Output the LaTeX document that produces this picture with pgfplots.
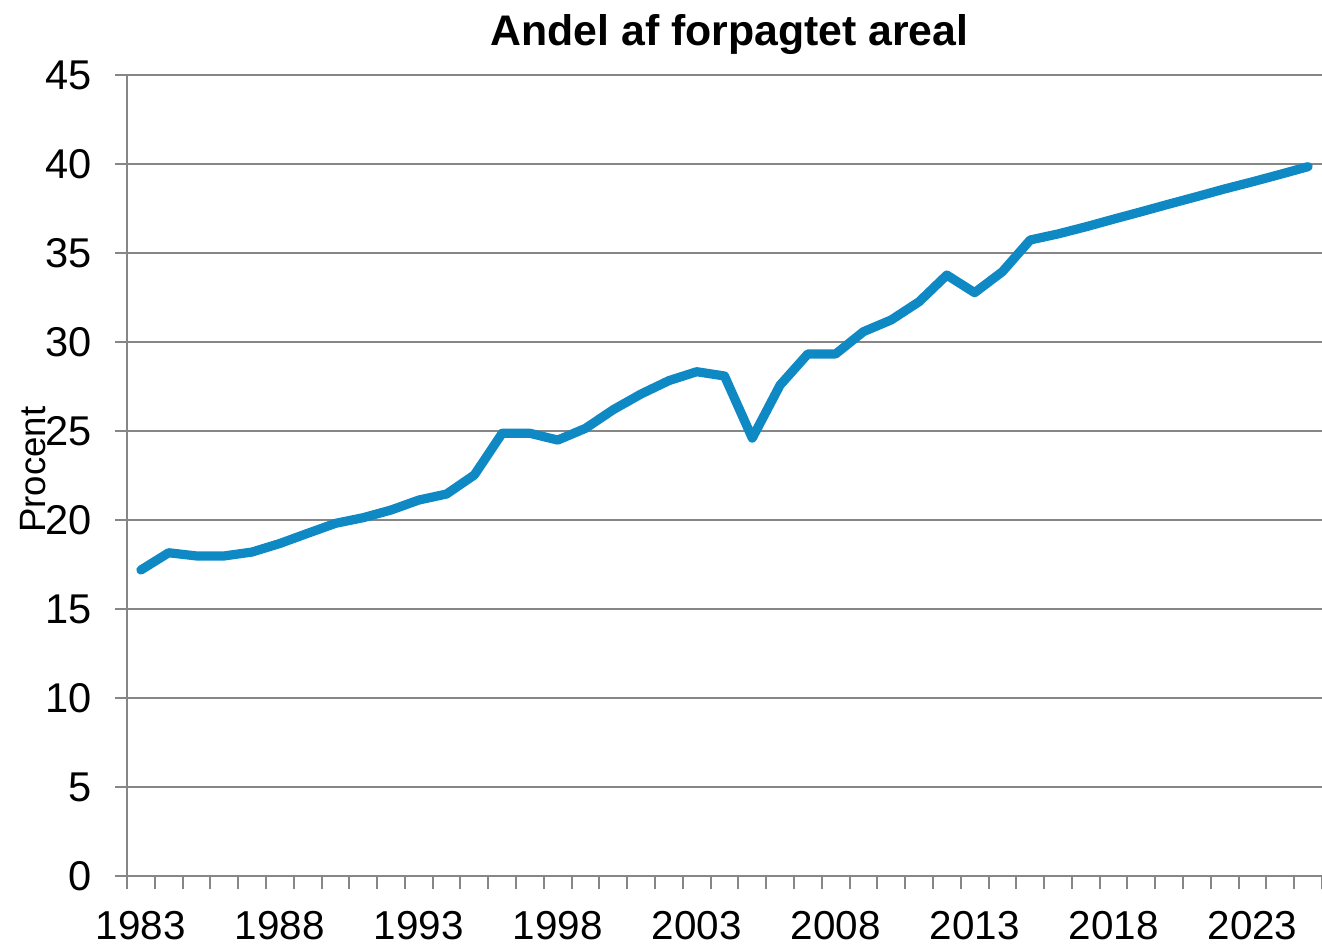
\documentclass[border=0pt]{standalone}
\usepackage{fontspec}
\setmainfont{Liberation Sans}
\usepackage{pgfplots}
\pgfplotsset{compat=1.18}
\definecolor{linec}{RGB}{14,137,196}
\definecolor{gridc}{RGB}{134,134,134}
\begin{document}
\begin{tikzpicture}
\begin{axis}[
  scale only axis, width=597.5pt, height=400.5pt,
  xmin=1982.5, xmax=2025.5, ymin=0, ymax=45,
  axis x line*=bottom, axis y line*=left,
  axis line style={gridc, line width=1pt, -},
  ytick={0,5,...,45},
  ymajorgrids, major grid style={gridc, line width=1pt},
  tick align=outside,
  major tick length=6pt, minor tick length=6.5pt,
  tick style={gridc, line width=1pt},
  major x tick style={draw=none},
  xtick={1983,1988,...,2023},
  xticklabels={1983,1988,1993,1998,2003,2008,2013,2018,2023},
  minor xtick={1982.5,1983.5,...,2025.5},
  xticklabel style={font=\fontsize{20.2}{24}\selectfont, inner sep=0pt, anchor=north, yshift=-11.5pt},
  yticklabel style={font=\fontsize{20.8}{24}\selectfont, inner sep=0pt, anchor=east, xshift=-11.5pt, /pgf/number format/assume math mode=true},
  title={Andel af forpagtet areal},
  title style={font=\bfseries\fontsize{21.4}{25}\selectfont, at={(axis description cs:0.5,1)}, anchor=base, yshift=8.5pt, xshift=2.5pt},
  ylabel={Procent},
  every axis y label/.style={at={([xshift=-46.75pt]axis description cs:0,0.507)}, rotate=90, anchor=center, font=\fontsize{18.3}{22}\selectfont, inner sep=0pt},
]
\addplot[linec, line width=4.6pt, line join=round, line cap=round] coordinates {
(1983,17.19) (1984,18.16) (1985,17.98) (1986,17.98) (1987,18.2) (1988,18.68)
(1989,19.25) (1990,19.81) (1991,20.13) (1992,20.56) (1993,21.12) (1994,21.46)
(1995,22.53) (1996,24.87) (1997,24.87) (1998,24.49) (1999,25.15) (2000,26.2)
(2001,27.08) (2002,27.83) (2003,28.33) (2004,28.09) (2005,24.6) (2006,27.58)
(2007,29.33) (2008,29.33) (2009,30.58) (2010,31.24) (2011,32.26) (2012,33.76)
(2013,32.77) (2014,33.95) (2015,35.73) (2016,36.07) (2017,36.47) (2018,36.9)
(2019,37.32) (2020,37.75) (2021,38.17) (2022,38.6) (2023,39.0) (2024,39.42)
(2025,39.85)
};
\end{axis}
\pgfresetboundingbox
\path[use as bounding box] (-63.5pt,-35pt) rectangle (597.5pt,438pt);
\end{tikzpicture}
\end{document}
